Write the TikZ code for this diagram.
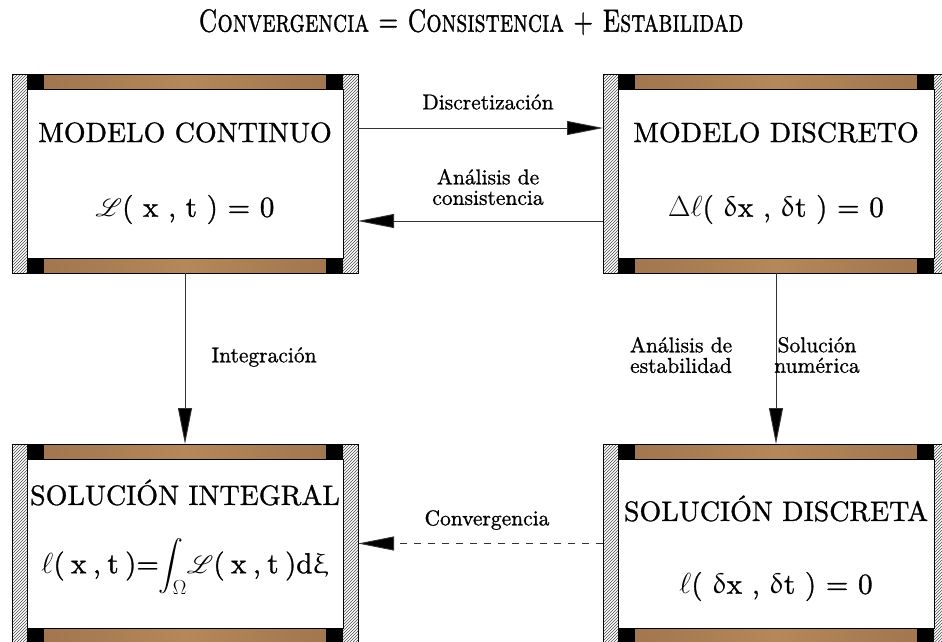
\RequirePackage{fix-cm}
\documentclass[tikz,border=0pt]{standalone}
\usepackage{exscale}
\usepackage{mathrsfs}
\usepackage{upgreek}
\usepackage{fontspec}
\newfontfamily\heavy{lmroman10-regular.otf}[FakeBold=1.0]
\newfontfamily\heavysc{lmromancaps10-regular.otf}[FakeBold=1.2]
\usetikzlibrary{arrows.meta,patterns}
\definecolor{hatchc}{HTML}{4A4A4A}
\definecolor{woodA}{HTML}{A0744D}
\definecolor{woodB}{HTML}{B4885A}
\definecolor{lineg}{HTML}{333333}
\newcommand\wallbox[1]{%
  \fill[white] (#1.north west) rectangle (#1.south east);
  \fill[pattern=north east lines, pattern color=hatchc] (#1.north west) rectangle ([xshift=15pt]#1.south west);
  \fill[pattern=north east lines, pattern color=hatchc] ([xshift=-15pt]#1.north east) rectangle (#1.south east);
  \shade[left color=woodA, right color=woodA, middle color=woodB] ([xshift=15pt]#1.north west) rectangle ([xshift=-15pt,yshift=-15pt]#1.north east);
  \shade[left color=woodA, right color=woodA, middle color=woodB] ([xshift=15pt,yshift=15pt]#1.south west) rectangle ([xshift=-15pt]#1.south east);
  \fill[black] ([xshift=15pt]#1.north west) rectangle ([xshift=32pt,yshift=-15pt]#1.north west);
  \fill[black] ([xshift=-15pt]#1.north east) rectangle ([xshift=-32pt,yshift=-15pt]#1.north east);
  \fill[black] ([xshift=15pt]#1.south west) rectangle ([xshift=32pt,yshift=15pt]#1.south west);
  \fill[black] ([xshift=-15pt]#1.south east) rectangle ([xshift=-32pt,yshift=15pt]#1.south east);
  \draw[line width=0.8pt, fill=white] ([xshift=15pt,yshift=-15pt]#1.north west) rectangle ([xshift=-15pt,yshift=15pt]#1.south east);
  \draw[line width=0.8pt] ([xshift=15pt]#1.north west) -- ([xshift=-15pt]#1.north east);
  \draw[line width=0.8pt] ([xshift=15pt]#1.south west) -- ([xshift=-15pt]#1.south east);
  \draw[line width=0.8pt] (#1.north west) rectangle (#1.south east);
}
\tikzset{
  boxnode/.style={minimum width=346pt, minimum height=199pt, inner sep=0pt, outer sep=0pt},
  boxtext/.style={font=\heavy\fontsize{28}{34}\selectfont, inner sep=0pt},
  eqtext/.style={font=\heavy\fontsize{29}{35}\selectfont, inner sep=0pt},
  lbl/.style={font=\heavy\fontsize{21.5}{21.5}\selectfont, align=center, inner sep=0pt},
  conn/.style={line width=0.9pt, draw=lineg, -{Triangle[length=36pt,width=14pt,fill=black]}},
}
\begin{document}
\begin{tikzpicture}[x=1pt,y=1pt]
\useasboundingbox (0,0) rectangle (942,-641);
\node[boxnode] (A) at (185,-173.5) {};
\node[boxnode] (B) at (776,-173.5) {};
\node[boxnode] (C) at (185,-543.5) {};
\node[boxnode] (D) at (776,-543.5) {};
\wallbox{A}\wallbox{B}\wallbox{C}\wallbox{D}
\node[inner sep=0pt] (T) at (471,-22) {\scalebox{0.75}[1]{\heavysc\fontsize{32}{38}\selectfont Convergencia = Consistencia + Estabilidad}};
\node[boxtext] (A1) at ([yshift=41pt]A.center) {MODELO CONTINUO};
\node[eqtext] (A2) at ([yshift=-36pt]A.center) {$\mathscr{L}$( x , t ) = 0};
\node[boxtext] (B1) at ([yshift=41pt]B.center) {MODELO DISCRETO};
\node[eqtext] (B2) at ([yshift=-36pt]B.center) {$\Delta\ell$( $\updelta$x , $\updelta$t ) = 0};
\node[boxtext] (C1) at ([yshift=51pt]C.center) {SOLUCIÓN INTEGRAL};
\node[eqtext] (C2) at ([yshift=-23pt]C.center) {$\ell$(\:x\:,\:t\:)=$\displaystyle\int_{\Omega}\!\mathscr{L}$(\:x\:,\:t\:)d$\upxi$};
\node[boxtext] (D1) at ([yshift=35pt]D.center) {SOLUCIÓN DISCRETA};
\node[eqtext] (D2) at ([yshift=-43pt]D.center) {$\ell$( $\updelta$x , $\updelta$t ) = 0};
\draw[conn] ([yshift=45.5pt]A.east) -- ([yshift=45.5pt]B.west);
\draw[conn] ([yshift=-47.5pt]B.west) -- ([yshift=-47.5pt]A.east);
\draw[conn] (A.south) -- (C.north);
\draw[conn] (B.south) -- (D.north);
\draw[conn, dash pattern=on 7pt off 7pt] (D.west) -- (C.east);
\node[lbl] (L1) at (488,-102) {Discretización};
\node[lbl] (L2) at (488,-187) {Análisis de\\[-1pt]consistencia};
\node[lbl] (L3) at (264,-357) {Integración};
\node[lbl] (L4) at (681,-355) {Análisis de\\[-1pt]estabilidad};
\node[lbl] (L5) at (817,-355) {Solución\\[-1pt]numérica};
\node[lbl] (L6) at (487,-520) {Convergencia};
\end{tikzpicture}
\end{document}
